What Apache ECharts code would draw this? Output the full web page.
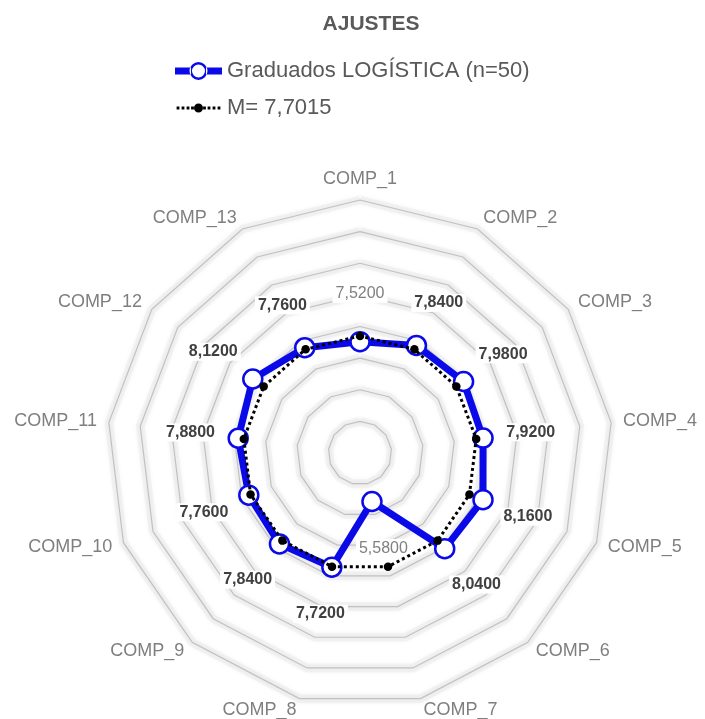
<!DOCTYPE html>
<html><head><meta charset="utf-8">
<script src="https://cdn.jsdelivr.net/npm/echarts@6/dist/echarts.min.js"></script>
<style>html,body{margin:0;padding:0;background:#fff}#c{width:705px;height:719px}</style>
</head><body><div id="c"></div>
<script>
// ---- data ----
const categories = ['COMP_1','COMP_2','COMP_3','COMP_4','COMP_5','COMP_6','COMP_7','COMP_8','COMP_9','COMP_10','COMP_11','COMP_12','COMP_13'];
const graduados = [7.52, 7.84, 7.98, 7.92, 8.16, 8.04, 5.58, 7.72, 7.84, 7.76, 7.88, 8.12, 7.76];
const media = [7.7015, 7.7015, 7.7015, 7.7015, 7.7015, 7.7015, 7.7015, 7.7015, 7.7015, 7.7015, 7.7015, 7.7015, 7.7015];
const seriesNames = ['Graduados LOGÍSTICA (n=50)', 'M= 7,7015'];
const titleText = 'AJUSTES';
const scaleMin = 4, scaleMax = 12, scaleSplits = 8;
const meanValue = media[0];

// ECharts radar runs counter-clockwise: reorder so the chart reads clockwise
const order = [0].concat(categories.map((_, i) => i).slice(1).reverse());
const pick = arr => order.map(i => arr[i]);

const FONT = 'Liberation Sans, Arial, sans-serif';
const CENTER = [360, 453];
const RADIUS = 253;
const BLUE = '#0a0ae8';

// legend icons
const blueIcon = 'path://M0,6.5 L16,6.5 L16,13.5 L0,13.5 Z ' +
  'M31,6.5 L47,6.5 L47,13.5 L31,13.5 Z ' +
  'M14.5,10 A9,9 0 1,0 32.5,10 A9,9 0 1,0 14.5,10 Z ' +
  'M17,10 A6.5,6.5 0 1,1 30,10 A6.5,6.5 0 1,1 17,10 Z';
let blackIcon = 'path://M0,0 L0.01,0 L0.01,0.01 Z M47,20 L46.99,20 L46.99,19.99 Z ';
[3, 8, 13, 17.5, 29.5, 34, 39, 44].forEach(x => {
  blackIcon += 'M' + (x - 1.4) + ',8.6 L' + (x + 1.4) + ',8.6 L' + (x + 1.4) + ',11.4 L' + (x - 1.4) + ',11.4 Z ';
});
blackIcon += 'M19,10 A4.5,4.5 0 1,0 28,10 A4.5,4.5 0 1,0 19,10 Z';

const indicators = pick(categories).map(n => ({name: n, min: scaleMin, max: scaleMax}));
const radarBase = {
  center: CENTER,
  radius: RADIUS,
  startAngle: 90,
  shape: 'polygon',
  splitNumber: scaleSplits,
  indicator: indicators,
  axisLine: {show: false},
  axisTick: {show: false},
  axisLabel: {show: false},
  splitArea: {show: false}
};

const chart = echarts.init(document.getElementById('c'), null, {renderer: 'canvas'});

const option = {
  backgroundColor: '#ffffff',
  animation: false,
  title: {
    text: titleText,
    left: 366, top: 9, textAlign: 'center',
    textStyle: {fontFamily: FONT, fontSize: 21, fontWeight: 'bold', color: '#595959'}
  },
  legend: {
    orient: 'vertical',
    left: 170, top: 55,
    itemWidth: 47, itemHeight: 20, itemGap: 15,
    textStyle: {fontFamily: FONT, fontSize: 22, color: '#595959'},
    data: [
      {name: seriesNames[0], icon: blueIcon, itemStyle: {color: BLUE, borderWidth: 0}},
      {name: seriesNames[1], icon: blackIcon, itemStyle: {color: '#000', borderWidth: 0}}
    ]
  },
  radar: [
    Object.assign({}, radarBase, {
      axisName: {fontFamily: FONT, fontSize: 18, color: '#7f7f7f'},
      nameGap: 12,
      splitLine: {lineStyle: {color: '#c8c8c8', width: 1.2, shadowBlur: 6, shadowColor: 'rgba(0,0,0,0.28)'}}
    }),
    Object.assign({}, radarBase, {
      z: 1,
      axisName: {show: false},
      splitLine: {lineStyle: {color: 'rgba(0,0,0,0.03)', width: 9, shadowBlur: 14, shadowColor: 'rgba(0,0,0,0.14)'}}
    })
  ],
  series: [
    {
      name: seriesNames[0],
      type: 'radar',
      radarIndex: 0,
      z: 2,
      symbol: 'circle',
      symbolSize: 19,
      lineStyle: {color: BLUE, width: 7},
      itemStyle: {color: '#ffffff', borderColor: BLUE, borderWidth: 2.5},
      label: {
        show: true,
        position: 'inside',
        backgroundColor: '#ffffff',
        padding: [1, 3],
        formatter: p => {
          const s = Number(p.value).toFixed(4).replace('.', ',');
          return Number(p.value) < meanValue ? '{l|' + s + '}' : '{d|' + s + '}';
        },
        rich: {
          l: {fontFamily: FONT, fontSize: 16, color: '#808080', fontWeight: 'normal'},
          d: {fontFamily: FONT, fontSize: 16, color: '#404040', fontWeight: 'bold'}
        }
      },
      labelLayout: function (p) {
        const px = p.rect.x + p.rect.width / 2, py = p.rect.y + p.rect.height / 2;
        const dx = px - CENTER[0], dy = py - CENTER[1];
        const len = Math.hypot(dx, dy) || 1;
        return {dx: dx / len * 48, dy: dy / len * 48};
      },
      data: [{value: pick(graduados), name: seriesNames[0]}]
    },
    {
      name: seriesNames[1],
      type: 'radar',
      radarIndex: 0,
      z: 3,
      symbol: 'circle',
      symbolSize: 8.5,
      lineStyle: {color: '#000000', width: 3, type: [3, 3]},
      itemStyle: {color: '#000000'},
      data: [{value: pick(media), name: seriesNames[1]}]
    }
  ]
};
chart.setOption(option);
</script>
</body></html>
